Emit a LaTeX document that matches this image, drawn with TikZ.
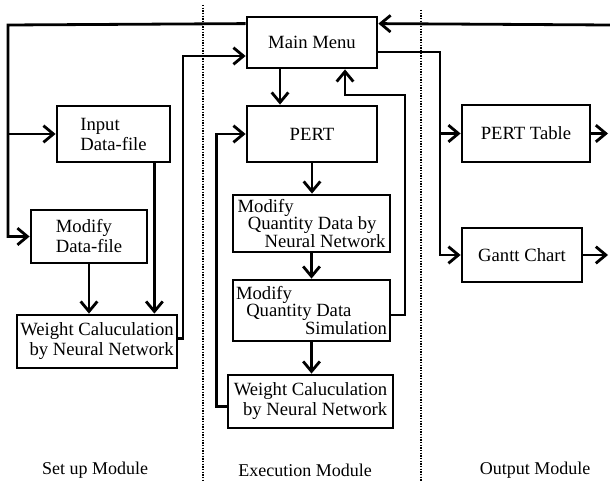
\documentclass[tikz,border=0pt]{standalone}
\usepackage{fontspec}
\setmainfont{Liberation Serif}
\usetikzlibrary{arrows.meta,calc}

\begin{document}
\begin{tikzpicture}[x=0.75pt,y=-0.75pt,
    box/.style={draw,line width=2.1pt,inner sep=2pt,font=\fontsize{14}{15}\selectfont},
    tight/.style={box,font=\fontsize{14}{13}\selectfont},
    line/.style={line width=2.1pt},
    flow/.style={line,-{Straight Barb[length=7.5pt,width=12.5pt]}},
    sep/.style={line width=2pt,dash pattern=on 0.9pt off 1.1pt},
    module/.style={font=\fontsize{13.5}{15}\selectfont}]
    \useasboundingbox (0,0) rectangle (610,481);

    \draw[sep] (203,5) -- (203,481);
    \draw[sep] (421,10) -- (421,481);

    \node[box,minimum width=97.5pt,minimum height=38.25pt] (menu) at (312,42.5) {Main Menu};
    \node[box,minimum width=97.5pt,minimum height=42pt] (pert) at (312,134) {PERT};
    \node[box,align=left,minimum width=84.75pt,minimum height=42pt] (input) at (113.5,134) {Input\\Data-file};
    \node[box,align=left,minimum width=87pt,minimum height=39.75pt] (modify) at (89,236.5) {Modify\\Data-file};
    \node[box,align=right,minimum width=120pt,minimum height=39.75pt] (weight) at (97,341.5) {Weight Caluculation\\by Neural Network};
    \node[tight,align=left,minimum width=117.75pt,minimum height=42.75pt] (mq1) at (311.5,223.5) {Modify\\\hspace*{0.55em}Quantity Data by\\\hspace*{1.45em}Neural Network};
    \node[tight,align=left,minimum width=117.75pt,minimum height=45.75pt] (mq2) at (311.5,310.5) {Modify\\\hspace*{0.55em}Quantity Data\\\hspace*{3.7em}Simulation};
    \node[box,align=right,minimum width=123.75pt,minimum height=39.75pt] (wt2) at (310.5,401.5) {Weight Caluculation\\by Neural Network};
    \node[box,minimum width=96pt,minimum height=42.75pt] (ptable) at (526,133.5) {PERT Table};
    \node[box,minimum width=90pt,minimum height=40.5pt] (gantt) at (522,255) {Gantt Chart};

    \node[module] (setup) at (95,470) {Set up Module};
    \node[module] (exec) at (305,470) {Execution Module};
    \node[module] (output) at (535,470) {Output Module};

    % set up module
    \coordinate (back) at (8,25);
    \draw[flow] ($(menu.north west)+(0,8)$) -- (back) |- (modify.west);
    \draw[flow] (back |- input.west) -- (input.west);
    \coordinate (in-drop) at ($(input.south east)+(-17,0)$);
    \draw[flow] (in-drop) -- (in-drop |- weight.north);
    \draw[flow] (modify.south) -- (modify.south |- weight.north);
    \coordinate (up-left) at (183,56);
    \draw[flow] ($(weight.east)+(0,-3)$) -| (up-left) -- (up-left -| menu.west);

    % execution module
    \draw[flow] ($(menu.south)+(-32,0)$) -- ($(pert.north)+(-32,0)$);
    \draw[flow] (pert.south) -- (pert.south |- mq1.north);
    \draw[flow] (mq1.south) -- (mq1.south |- mq2.north);
    \draw[flow] (mq2.south) -- (mq2.south |- wt2.north);
    \coordinate (loop-r) at (405,95);
    \draw[flow] ($(mq2.east)+(0,4.5)$) -| (loop-r) -| ($(menu.south)+(33,0)$);
    \draw[flow] ($(wt2.west)+(0,5)$) -- ++(-10,0) |- (pert.west);

    % output module
    \coordinate (in-r) at (610,25);
    \coordinate (edge) at (608,0);
    \draw[flow] (in-r) -- ($(menu.north east)+(0,8)$);
    \coordinate (out) at (440,52);
    \draw[flow] ($(menu.east)+(0,9.5)$) -- (out) |- (gantt.west);
    \draw[flow] (out |- ptable.west) -- (ptable.west);
    \draw[flow] (ptable.east) -- (ptable.east -| edge);
    \draw[flow] (gantt.east) -- (gantt.east -| edge);
\end{tikzpicture}
\end{document}
